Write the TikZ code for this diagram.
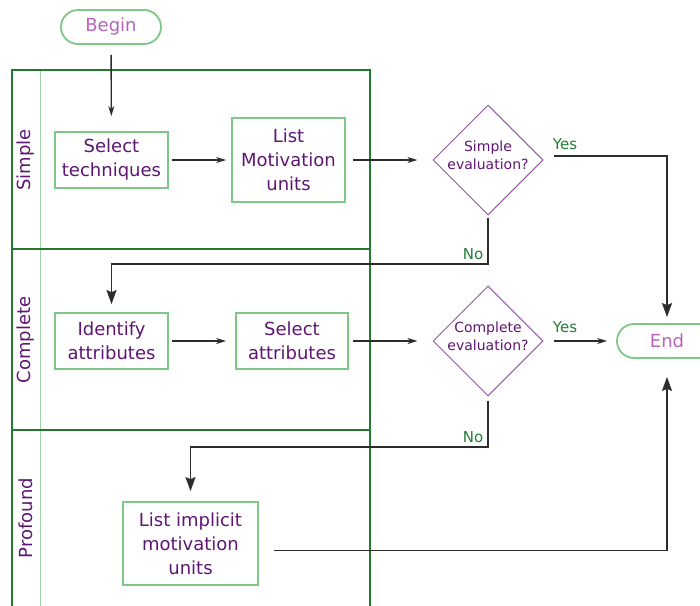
\documentclass[tikz,border=0pt]{standalone}
\usepackage{fontspec}
\setmainfont{DejaVu Sans}
\usetikzlibrary{shapes.geometric,arrows.meta,calc}
\definecolor{txtpurple}{RGB}{95,22,115}
\definecolor{termtxt}{RGB}{185,100,185}
\definecolor{boxgreen}{RGB}{125,200,135}
\definecolor{lanegreen}{RGB}{35,120,50}
\definecolor{lanelight}{RGB}{160,210,165}
\definecolor{diapurple}{RGB}{150,90,165}
\definecolor{labgreen}{RGB}{35,125,55}
\definecolor{linegray}{RGB}{45,45,45}
\tikzset{
  terminal/.style={draw=boxgreen, line width=1.8pt, rounded corners=17pt,
    minimum width=100pt, minimum height=34pt, inner sep=0pt,
    text=termtxt, font=\fontsize{18}{22}\selectfont},
  process/.style={draw=boxgreen, line width=1.8pt, inner sep=0pt, align=center,
    text=txtpurple, font=\fontsize{18}{24}\selectfont},
  decision/.style={draw=diapurple, line width=1pt, diamond, inner sep=0pt,
    minimum width=110pt, minimum height=110pt},
  dtext/.style={align=center, text=txtpurple, font=\fontsize{14}{18}\selectfont},
  lanelabel/.style={rotate=90, text=txtpurple, font=\fontsize{18}{22}\selectfont},
  answer/.style={text=labgreen, font=\fontsize{15}{18}\selectfont, inner sep=0pt},
  conn/.style={draw=linegray, line width=1.4pt},
  small/.style={conn, -{Stealth[length=10pt,width=6pt,inset=3pt]}},
  big/.style={conn, -{Stealth[length=14pt,width=10pt,inset=2pt]}},
  lane/.style={draw=lanegreen, line width=2.2pt},
}
\begin{document}
\begin{tikzpicture}[x=1pt,y=-1pt]
\clip (0,0) rectangle (700,605);
\fill[white] (0,0) rectangle (700,605);

% swimlanes
\draw[lanelight, line width=1pt] (40,70) -- (40,620);
\draw[lane] (12,620) -- (12,70) -- (370,70) -- (370,620);
\draw[lane] (12,249) -- (370,249);
\draw[lane] (12,430) -- (370,430);
\node[lanelabel] (lsimple) at (26,160) {Simple};
\node[lanelabel] (lcomplete) at (26,340) {Complete};
\node[lanelabel] (lprofound) at (26,518) {Profound};

% nodes
\node[terminal] (begin) at (111,27) {Begin};
\node[terminal] (end) at (667,341) {End};
\node[process, minimum width=113pt, minimum height=56pt] (st) at (111.5,160) {Select\\techniques};
\node[process, minimum width=113pt, minimum height=84pt] (lmu) at (288.5,160) {List\\Motivation\\units};
\node[process, minimum width=113pt, minimum height=56pt] (ia) at (111.5,341) {Identify\\attributes};
\node[process, minimum width=112pt, minimum height=56pt] (sa) at (292,341) {Select\\attributes};
\node[process, minimum width=135pt, minimum height=83pt] (lim) at (190.5,543.5) {List implicit\\motivation\\units};
\node[decision] (d1) at (488,160) {};
\node[dtext] at ([yshift=5pt]d1.center) {Simple\\evaluation?};
\node[decision] (d2) at (488,341) {};
\node[dtext] at ([yshift=5pt]d2.center) {Complete\\evaluation?};

% connectors
\draw[small, shorten <=10pt, shorten >=15pt] (begin) -- (st);
\draw[small, shorten <=3pt, shorten >=5pt] (st) -- (lmu);
\draw[small, shorten <=7pt, shorten >=15pt] (lmu) -- (d1);
\draw[small, shorten <=3pt, shorten >=9pt] (ia) -- (sa);
\draw[small, shorten <=4pt, shorten >=15pt] (sa) -- (d2);
\draw[small, shorten <=10pt, shorten >=9pt] (d2) -- (end);

\draw[big, shorten >=6pt] ([xshift=10pt,yshift=4pt]d1.east) -| (end.north);
\draw[big, shorten <=2pt, shorten >=8pt] (d1.south) |- ($(ia.north)+(0,-48)$) -- (ia.north);
\draw[big, shorten <=4pt, shorten >=10pt] (d2.south) |- ($(lim.north)+(0,-54)$) -- (lim.north);
\draw[big, shorten >=18pt] ([xshift=15pt,yshift=-7pt]lim.east) -| (end.south);

% answers
\node[answer] (y1) at (565,144) {Yes};
\node[answer] (n1) at (473,254) {No};
\node[answer] (y2) at (565,327) {Yes};
\node[answer] (n2) at (473,437) {No};
\end{tikzpicture}
\end{document}
